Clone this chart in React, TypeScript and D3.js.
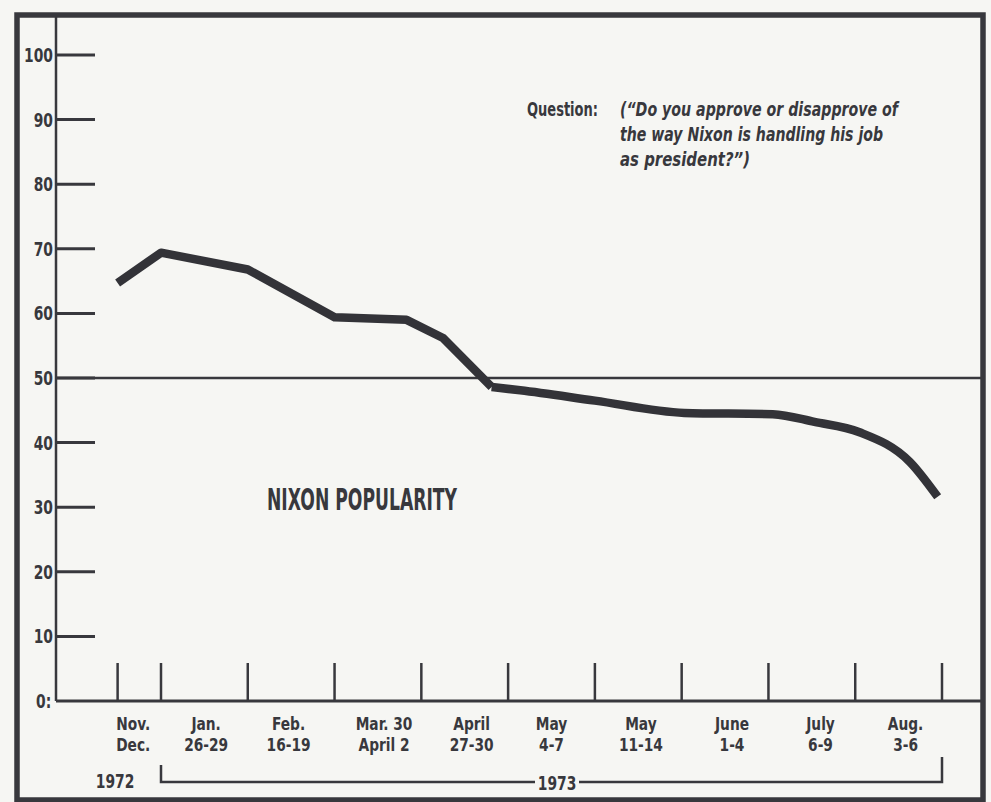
import React, { useEffect, useRef } from "react";
import * as d3 from "d3";

// poll periods, shown under the x axis (two lines each)
const periodTop = ["Nov.", "Jan.", "Feb.", "Mar. 30", "April", "May", "May", "June", "July", "Aug."];
const periodBottom = ["Dec.", "26-29", "16-19", "April 2", "27-30", "4-7", "11-14", "1-4", "6-9", "3-6"];
// where each label sits, in tick units
const periodPos = [0.68, 1.52, 2.47, 3.57, 4.58, 5.5, 6.53, 7.58, 8.6, 9.58];

// tick marks along the bottom
const xTicks = [0.5, 1, 2, 3, 4, 5, 6, 7, 8, 9, 10];
const yTicks = [10, 20, 30, 40, 50, 60, 70, 80, 90, 100];
const yLabels = ["0:", "10", "20", "30", "40", "50", "60", "70", "80", "90", "100"];

// approval (%), t = position in tick units
const approvalT = [0.5, 1, 2, 3, 3.83, 4.25, 4.81];
const approvalV = [64.7, 69.4, 66.8, 59.4, 59.0, 56.2, 48.6];
// smoother second half of the curve
const approvalT2 = [4.81, 5.14, 6, 7.03, 8.05, 8.53, 9.05, 9.63, 9.95];
const approvalV2 = [48.6, 48.1, 46.5, 44.6, 44.4, 43.2, 41.6, 37.0, 31.6];

const questionLines = [
  "(\u201cDo you approve or disapprove of",
  "the way Nixon is handling his job",
  "as  president?\u201d)",
];
const questionWidths = [278, 263, 130];

const INK = "#38383d";
const FONT = "'Liberation Sans Narrow', 'DejaVu Sans Condensed', 'Liberation Sans', sans-serif";

export default function App() {
  const ref = useRef<SVGSVGElement>(null);

  useEffect(() => {
    const svg = d3.select(ref.current);
    svg.selectAll("*").remove();

    const x = d3.scaleLinear().domain([1, 10]).range([161, 942]);
    const y = d3.scaleLinear().domain([0, 100]).range([701, 55]);
    const left = 56;
    const right = 983;

    // condensed bold label at (px, py); the print face is a very narrow gothic
    const label = (g: any, px: number, py: number, txt: string, anchor: string, size = 20, sq = 0.77) =>
      g.append("text")
        .attr("transform", `translate(${px},${py}) scale(${sq},1)`)
        .attr("text-anchor", anchor)
        .style("font-family", FONT)
        .style("font-weight", "bold")
        .style("font-size", size + "px")
        .style("fill", INK)
        .text(txt);

    // paper
    svg.append("rect")
      .attr("width", 991).attr("height", 802)
      .style("fill", "#f6f6f3");

    // frame
    svg.append("rect")
      .attr("x", 17).attr("y", 15)
      .attr("width", 966).attr("height", 785)
      .style("fill", "none")
      .style("stroke", INK)
      .style("stroke-width", 5.5);

    // y axis
    svg.append("line")
      .attr("x1", left).attr("x2", left)
      .attr("y1", 15).attr("y2", y(0))
      .style("stroke", INK).style("stroke-width", 2.5);

    svg.selectAll("line.ytick")
      .data(yTicks)
      .enter()
      .append("line")
        .attr("class", "ytick")
        .attr("x1", left).attr("x2", 95)
        .attr("y1", d => y(d)).attr("y2", d => y(d))
        .style("stroke", INK).style("stroke-width", 3);

    yLabels.forEach((d, i) => {
      if (d === "0:") label(svg, 36, y(0) + 7, d, "start");
      else label(svg, 53, y(i * 10) + 7, d, "end");
    });

    // 50% line and baseline, across the whole frame
    [50, 0].forEach(v => {
      svg.append("line")
        .attr("x1", left).attr("x2", right)
        .attr("y1", y(v)).attr("y2", y(v))
        .style("stroke", INK).style("stroke-width", v === 0 ? 3 : 2.5);
    });

    // x ticks
    svg.selectAll("line.xtick")
      .data(xTicks)
      .enter()
      .append("line")
        .attr("class", "xtick")
        .attr("x1", d => x(d)).attr("x2", d => x(d))
        .attr("y1", 663).attr("y2", y(0))
        .style("stroke", INK).style("stroke-width", 2.5);

    // period labels, two lines each
    periodTop.forEach((d, i) => {
      label(svg, x(periodPos[i]), 730, d, "middle", 18, 0.85);
      label(svg, x(periodPos[i]), 751, periodBottom[i], "middle", 18, 0.85);
    });

    // years
    label(svg, 115, 788, "1972", "middle");
    const yearMid = 557;
    svg.append("path")
      .attr("d", `M${x(1)},765V782H${yearMid - 22}M${yearMid + 22},782H${x(10)}V757`)
      .style("fill", "none").style("stroke", INK).style("stroke-width", 2.5);
    label(svg, yearMid, 790, "1973", "middle");

    // the approval line
    const pts1 = approvalT.map((t, i) => [x(t), y(approvalV[i])] as [number, number]);
    const pts2 = approvalT2.map((t, i) => [x(t), y(approvalV2[i])] as [number, number]);
    const line1 = d3.line().curve(d3.curveLinear);
    const line2 = d3.line().curve(d3.curveMonotoneX);
    [line1(pts1), line2(pts2)].forEach(d => {
      svg.append("path")
        .attr("d", d)
        .style("fill", "none")
        .style("stroke", "#333338")
        .style("stroke-width", 8.5)
        .style("stroke-linejoin", "round");
    });

    // title
    svg.append("text")
      .attr("x", 267).attr("y", 510)
      .attr("textLength", 190)
      .attr("lengthAdjust", "spacingAndGlyphs")
      .style("font-family", FONT).style("font-weight", "bold")
      .style("font-size", "30px").style("fill", INK)
      .text("NIXON POPULARITY");

    // question
    svg.append("text")
      .attr("x", 527).attr("y", 116)
      .attr("textLength", 71)
      .attr("lengthAdjust", "spacingAndGlyphs")
      .style("font-family", FONT).style("font-weight", "bold")
      .style("font-size", "19.5px").style("fill", INK)
      .text("Question:");

    svg.selectAll("text.q")
      .data(questionLines)
      .enter()
      .append("text")
        .attr("class", "q")
        .attr("x", 620)
        .attr("y", (d, i) => 116 + i * 25)
        .attr("textLength", (d, i) => questionWidths[i])
        .attr("lengthAdjust", "spacingAndGlyphs")
        .style("font-family", FONT)
        .style("font-weight", "bold")
        .style("font-style", "italic")
        .style("font-size", "19.5px")
        .style("fill", INK)
        .text(d => d);
  }, []);

  return (
    <svg
      ref={ref}
      width={991}
      height={802}
      style={{ position: "absolute", left: 0, top: 0, display: "block" }}
    ></svg>
  );
}
